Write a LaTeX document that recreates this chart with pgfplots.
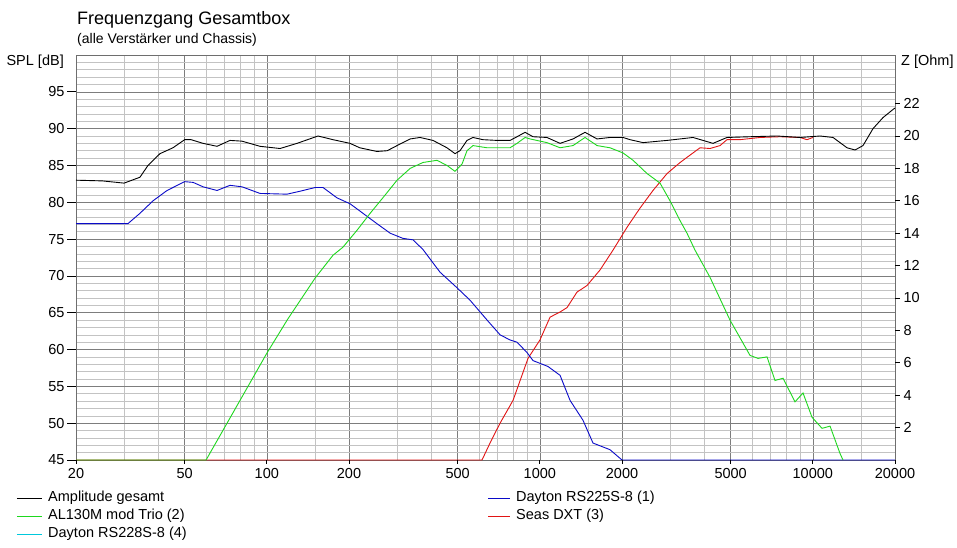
\documentclass[border=0pt]{standalone}
\usepackage{pgfplots}
\pgfplotsset{compat=1.18}
\usepackage{fontspec}
\setmainfont{Liberation Sans}
\definecolor{cgreen}{RGB}{30,215,30}
\definecolor{cblue}{RGB}{10,10,200}
\definecolor{cred}{RGB}{225,20,20}
\definecolor{ccyan}{RGB}{0,200,220}
\definecolor{gmaj}{RGB}{125,125,125}
\definecolor{gmin}{RGB}{195,195,195}
\definecolor{gframe}{RGB}{110,110,110}

\pgfplotstableread{
f db
20 83.0
25 82.9
30 82.6
34.3 83.4
36.7 85.0
40.6 86.6
45.3 87.4
50 88.5
52.8 88.5
58.4 88.0
65.7 87.6
73.3 88.4
81.1 88.3
94.4 87.6
111.8 87.3
129 88.0
154 89.0
174.7 88.5
201.7 88.0
219 87.4
253 86.9
276 87.0
300 87.7
335 88.6
364 88.8
406 88.4
457 87.4
489 86.6
510 87.0
541 88.4
569 88.8
619 88.5
697 88.4
778 88.4
825 88.9
883 89.5
944 88.9
1062 88.8
1186 88.0
1323 88.6
1464 89.5
1620 88.6
1807 88.8
2017 88.8
2140 88.5
2388 88.1
2924 88.4
3641 88.8
4309 88.0
4848 88.8
5888 88.9
7392 89.0
8977 88.8
10626 89.0
11856 88.8
13344 87.4
14276 87.1
15270 87.7
16614 90.0
18073 91.5
19665 92.6
20000 92.8
}\tblack

\pgfplotstableread{
f db
20 77.1
31 77.1
34.3 78.5
38.3 80.2
43.1 81.6
50 82.8
53.7 82.7
58.4 82.1
65.7 81.6
73.3 82.3
81.1 82.1
94.4 81.2
118.6 81.1
132.3 81.5
150.2 82.0
160.7 82.0
180.7 80.6
201.7 79.8
225 78.5
253 77.1
283 75.8
315 75.1
343 74.9
373 73.6
431 70.5
497 68.4
555 66.7
641 64.0
715 62.0
778 61.3
825 61.0
897 59.6
944 58.5
1071 57.7
1186 56.5
1290 53.1
1439 50.4
1566 47.3
1807 46.4
2000 45
20000 45
}\tblue

\pgfplotstableread{
f db
20 45
59.9 45
79.8 53.1
100 59.5
119.6 64.2
150.2 69.7
174.7 72.8
190 73.9
214 76.2
239 78.5
266 80.6
300 83.0
335 84.6
373 85.4
420 85.7
457 85.0
489 84.2
519 85.2
541 87.0
569 87.7
641 87.4
778 87.4
825 88.0
883 88.8
921 88.6
1062 88.1
1186 87.4
1323 87.7
1464 88.8
1620 87.7
1807 87.4
2017 86.7
2195 85.7
2470 83.9
2756 82.6
2998 80.2
3264 77.5
3460 75.8
3702 73.5
4202 69.8
4972 64.0
5888 59.2
6298 58.8
6796 59.0
7268 55.8
7776 56.1
8604 52.9
9206 54.1
9931 50.8
10806 49.3
11562 49.6
12572 45.9
12896 45
}\tgreen

\pgfplotstableread{
f db
20 45
614 45
657 47.3
715 50.0
798 53.1
905 58.8
1001 61.3
1090 64.4
1186 65.1
1258 65.7
1368 67.8
1489 68.7
1661 70.8
1854 73.5
2086 76.6
2327 79.2
2597 81.6
2924 83.9
3264 85.4
3460 86.1
3862 87.4
4202 87.3
4571 87.7
4848 88.5
5411 88.5
6407 88.8
7584 88.9
8977 88.8
9520 88.5
10012 88.8
}\tred

\begin{document}
\begin{tikzpicture}[x=1pt,y=1pt]
\begin{axis}[
  at={(0,0)}, anchor=south west,
  scale only axis, width=819pt, height=405pt,
  xmode=log, xmin=20, xmax=20000, ymin=45, ymax=100,
  xtick={20,50,100,200,500,1000,2000,5000,10000,20000},
  xticklabels={20,50,100,200,500,1000,2000,5000,10000,20000},
  minor xtick={30,40,60,70,80,90,150,300,400,600,700,800,900,1500,3000,4000,6000,7000,8000,9000,15000},
  ytick={45,50,...,95},
  yticklabels={45,50,55,60,65,70,75,80,85,90,95},
  minor ytick={46,...,99},
  grid=both,
  major grid style={draw=gmaj, line width=0.6pt},
  minor grid style={draw=gmin, line width=0.5pt},
  major tick length=0pt, minor tick length=0pt,
  yticklabel style={xshift=-8pt},
  xticklabel style={yshift=-5pt},
  axis line style={draw=gframe, line width=0.7pt},
  tick label style={font=\fontsize{14.5}{17}\selectfont},
  every axis plot/.append style={line width=0.9pt},
  clip=false,
]
\addplot[cred] table[x=f,y=db]{\tred};
\addplot[cblue] table[x=f,y=db]{\tblue};
\addplot[cgreen] table[x=f,y=db]{\tgreen};
\addplot[black] table[x=f,y=db]{\tblack};
\pgfplotsinvokeforeach{45,50,55,60,65,70,75,80,85,90,95}{
  \draw[black, line width=0.8pt] (axis cs:20,#1) -- ++(-9pt,0pt);
}
\pgfplotsinvokeforeach{20,50,100,200,500,1000,2000,5000,10000,20000}{
  \draw[black, line width=0.8pt] (axis cs:#1,45) -- ++(0pt,-4pt);
}
\end{axis}
\begin{axis}[
  at={(0,0)}, anchor=south west,
  scale only axis, width=819pt, height=405pt,
  xmode=log, xmin=20, xmax=20000, ymin=0, ymax=25,
  axis x line=none, axis y line*=right,
  axis line style={draw=gframe, line width=0.7pt},
  ytick={2,4,...,22},
  yticklabels={2,4,6,8,10,12,14,16,18,20,22},
  major tick length=0pt,
  yticklabel style={xshift=5pt},
  tick label style={font=\fontsize{14.5}{17}\selectfont},
  clip=false,
]
\addplot[draw=none] coordinates {(20,0) (20000,25)};
\pgfplotsinvokeforeach{2,4,6,8,10,12,14,16,18,20,22}{
  \draw[black, line width=0.8pt] (axis cs:20000,#1) -- ++(5pt,0pt);
}
\end{axis}
\node[anchor=base west, inner sep=0, font=\fontsize{18}{20}\selectfont] at (1,435) {Frequenzgang Gesamtbox};
\node[anchor=base west, inner sep=0, font=\fontsize{14}{16}\selectfont] at (1,416) {(alle Verstärker und Chassis)};
\node[anchor=base east, inner sep=0, font=\fontsize{14.5}{17}\selectfont] at (-12,394) {SPL [dB]};
\node[anchor=base west, inner sep=0, font=\fontsize{14.5}{17}\selectfont] at (825,394) {Z [Ohm]};
\begin{scope}[font=\fontsize{14.5}{17}\selectfont]
\draw[black, line width=0.9pt] (-59,-38) -- (-34,-38);
\node[anchor=west, inner sep=0] at (-28,-38) {Amplitude gesamt};
\draw[cgreen, line width=0.9pt] (-59,-56) -- (-34,-56);
\node[anchor=west, inner sep=0] at (-28,-56) {AL130M mod Trio (2)};
\draw[ccyan, line width=0.9pt] (-59,-74) -- (-34,-74);
\node[anchor=west, inner sep=0] at (-28,-74) {Dayton RS228S-8 (4)};
\draw[cblue, line width=0.9pt] (412,-38) -- (434,-38);
\node[anchor=west, inner sep=0] at (440,-38) {Dayton RS225S-8 (1)};
\draw[cred, line width=0.9pt] (412,-56) -- (434,-56);
\node[anchor=west, inner sep=0] at (440,-56) {Seas DXT (3)};
\end{scope}
\pgfresetboundingbox
\path[use as bounding box] (-76,-88) rectangle (881,460);
\end{tikzpicture}
\end{document}
